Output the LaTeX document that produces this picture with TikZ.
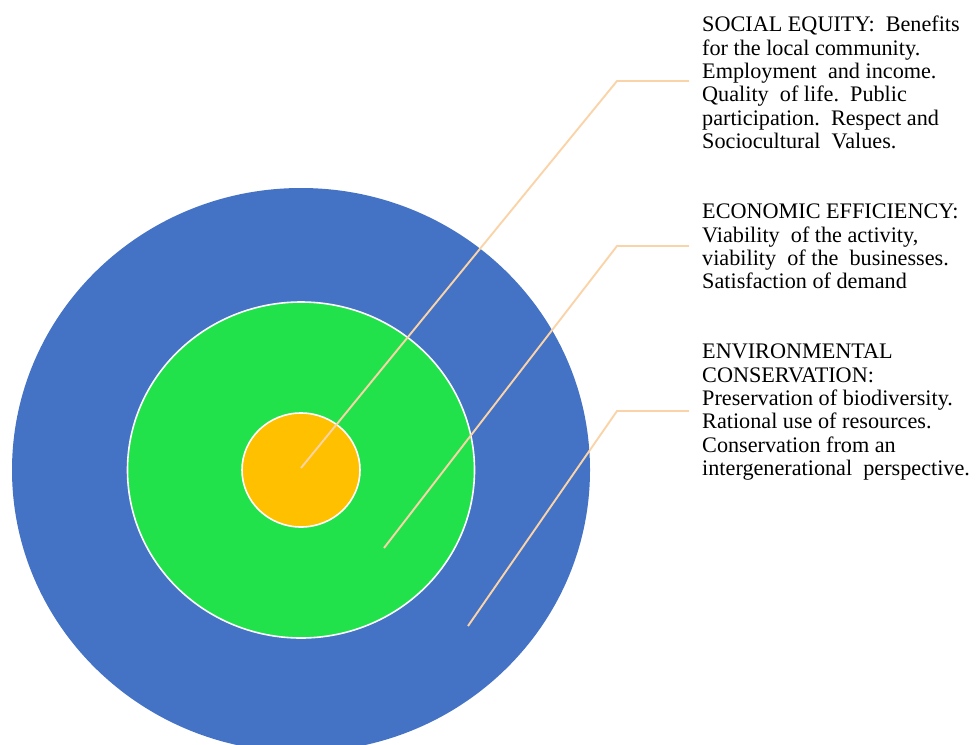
\documentclass[tikz,border=0pt]{standalone}
\usepackage{fontspec}
\setmainfont{Liberation Serif}
\definecolor{ringblue}{HTML}{4472C4}
\definecolor{ringgreen}{HTML}{22E24C}
\definecolor{ringorange}{HTML}{FFC000}
\definecolor{leader}{RGB}{250,212,168}
\begin{document}
\begin{tikzpicture}[x=1pt,y=-1pt,
  ring/.style={draw=white,line width=1.6pt},
  leaderline/.style={draw=leader,line width=1.9pt},
  label/.style={anchor=north west,inner sep=0pt,align=left,
    font=\fontsize{22.2}{23.3}\selectfont,text=black}]
\useasboundingbox (0,0) rectangle (976,744);
\clip (0,0) rectangle (976,744);
\coordinate (c) at (301,470);
\fill[ringblue] (c) ellipse [x radius=289, y radius=282];
\filldraw[ring,fill=ringgreen] (c) ellipse [x radius=173.5, y radius=168];
\filldraw[ring,fill=ringorange] (c) ellipse [x radius=59, y radius=57];
% leader points
\coordinate (p1) at (301,468);
\coordinate (k1) at (617,81);
\coordinate (e1) at (689,81);
\coordinate (p2) at (384,548);
\coordinate (k2) at (617,246);
\coordinate (e2) at (689,246);
\coordinate (p3) at (468,626);
\coordinate (k3) at (617,411);
\coordinate (e3) at (689,411);
\draw[leaderline] (p1) -- (k1) -- (e1);
\draw[leaderline] (p2) -- (k2) -- (e2);
\draw[leaderline] (p3) -- (k3) -- (e3);
\node[label] (social) at (702,16) {SOCIAL EQUITY:\ \ Benefits\\for the local community.\\Employment\ \ and income.\\Quality\ \ of life.\ \ Public\\participation.\ \ Respect and\\Sociocultural\ \ Values.};
\node[label] (econ) at (702,204) {ECONOMIC EFFICIENCY:\\Viability\ \ of the activity,\\viability\ \ of the\ \ businesses.\\Satisfaction of demand};
\node[label] (env) at (702,344) {ENVIRONMENTAL\\CONSERVATION:\\Preservation of biodiversity.\\Rational use of resources.\\Conservation from an\\intergenerational\ \ perspective.};
\end{tikzpicture}
\end{document}
